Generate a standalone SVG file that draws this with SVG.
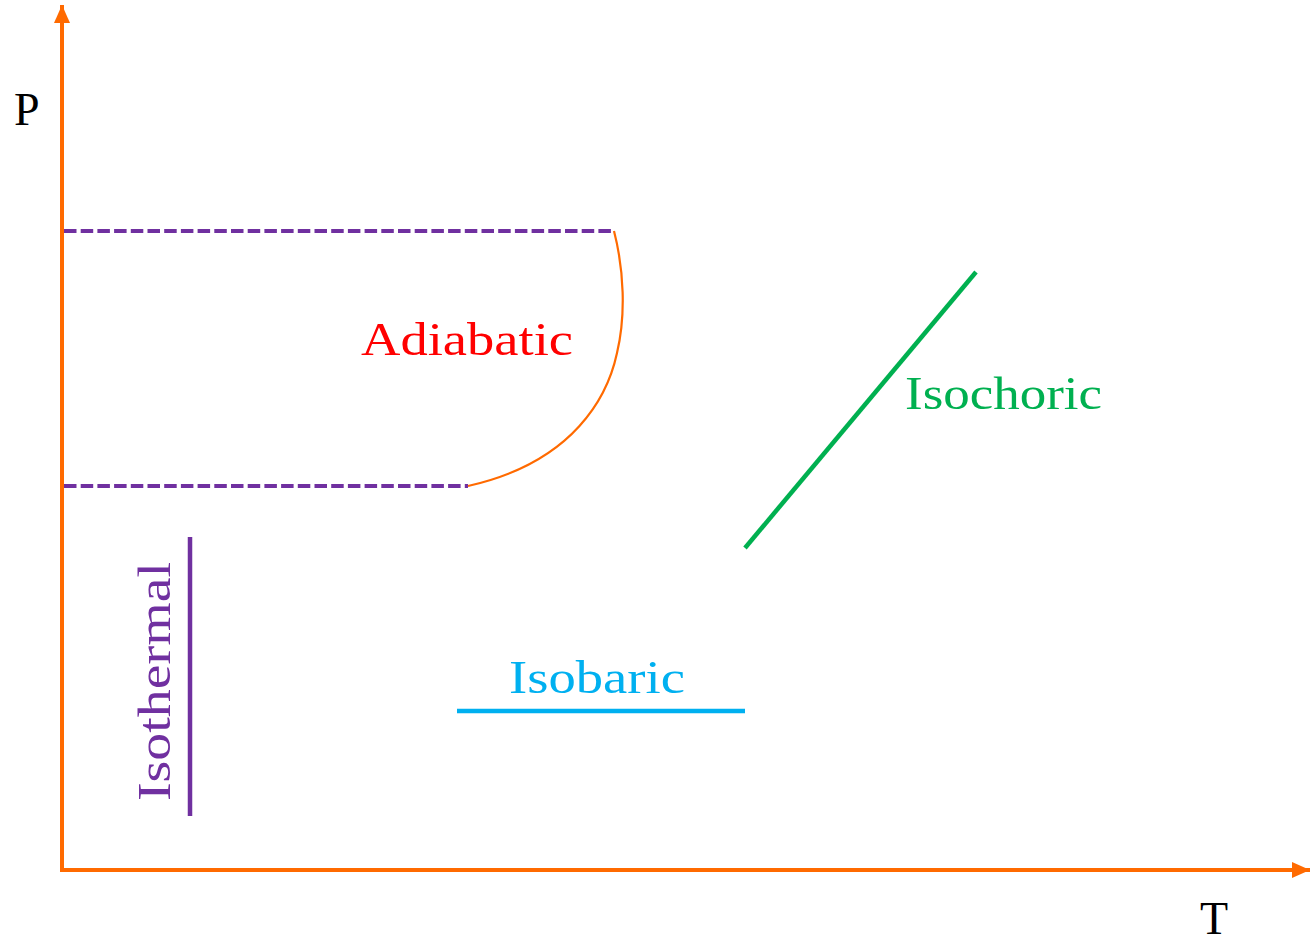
<svg xmlns="http://www.w3.org/2000/svg" width="1311" height="943" viewBox="0 0 1311 943">
<style>
text{font-family:"Liberation Serif","DejaVu Serif",serif;font-size:46px}
.axis{stroke:#FF6A00;stroke-width:4;fill:none}
.dash{stroke:#7030A0;stroke-width:4;stroke-dasharray:12.5 4.2;fill:none}
</style>
<defs>
<marker id="ah" markerUnits="userSpaceOnUse" markerWidth="20" markerHeight="18" refX="18" refY="8" orient="auto">
<path d="M0,0 L18,8 L0,16 Z" fill="#FF6A00"/>
</marker>
</defs>
<rect width="1311" height="943" fill="#fff"/>
<g id="connectors">
<path class="axis" d="M62,872 V5" marker-end="url(#ah)"/>
<path class="axis" d="M60,870 H1310" marker-end="url(#ah)"/>
<path class="dash" d="M64,231 H614"/>
<path class="dash" d="M64,486 H468"/>
<path d="M614,231 C624,270 626,315 617,353 C608,395 575,462 468,486" stroke="#FF6A00" stroke-width="2.2" fill="none"/>
</g>
<g id="P"><text x="14" y="125">P</text></g>
<g id="T"><text x="1200" y="934">T</text></g>
<g id="adiabatic"><text x="361" y="355" fill="#FF0000" textLength="212" lengthAdjust="spacingAndGlyphs">Adiabatic</text></g>
<g id="isochoric">
<line x1="745" y1="548" x2="976" y2="272" stroke="#00B050" stroke-width="4.5"/>
<text x="905" y="409" fill="#00B050" textLength="197" lengthAdjust="spacingAndGlyphs">Isochoric</text>
</g>
<g id="isobaric">
<line x1="457" y1="711" x2="745" y2="711" stroke="#00B0F0" stroke-width="4.5"/>
<text x="509" y="693" fill="#00B0F0" textLength="176" lengthAdjust="spacingAndGlyphs">Isobaric</text>
</g>
<g id="isothermal">
<line x1="190" y1="537" x2="190" y2="816" stroke="#7030A0" stroke-width="4.5"/>
<text transform="translate(170,801) rotate(-90)" fill="#7030A0" textLength="239" lengthAdjust="spacingAndGlyphs">Isothermal</text>
</g>
</svg>
